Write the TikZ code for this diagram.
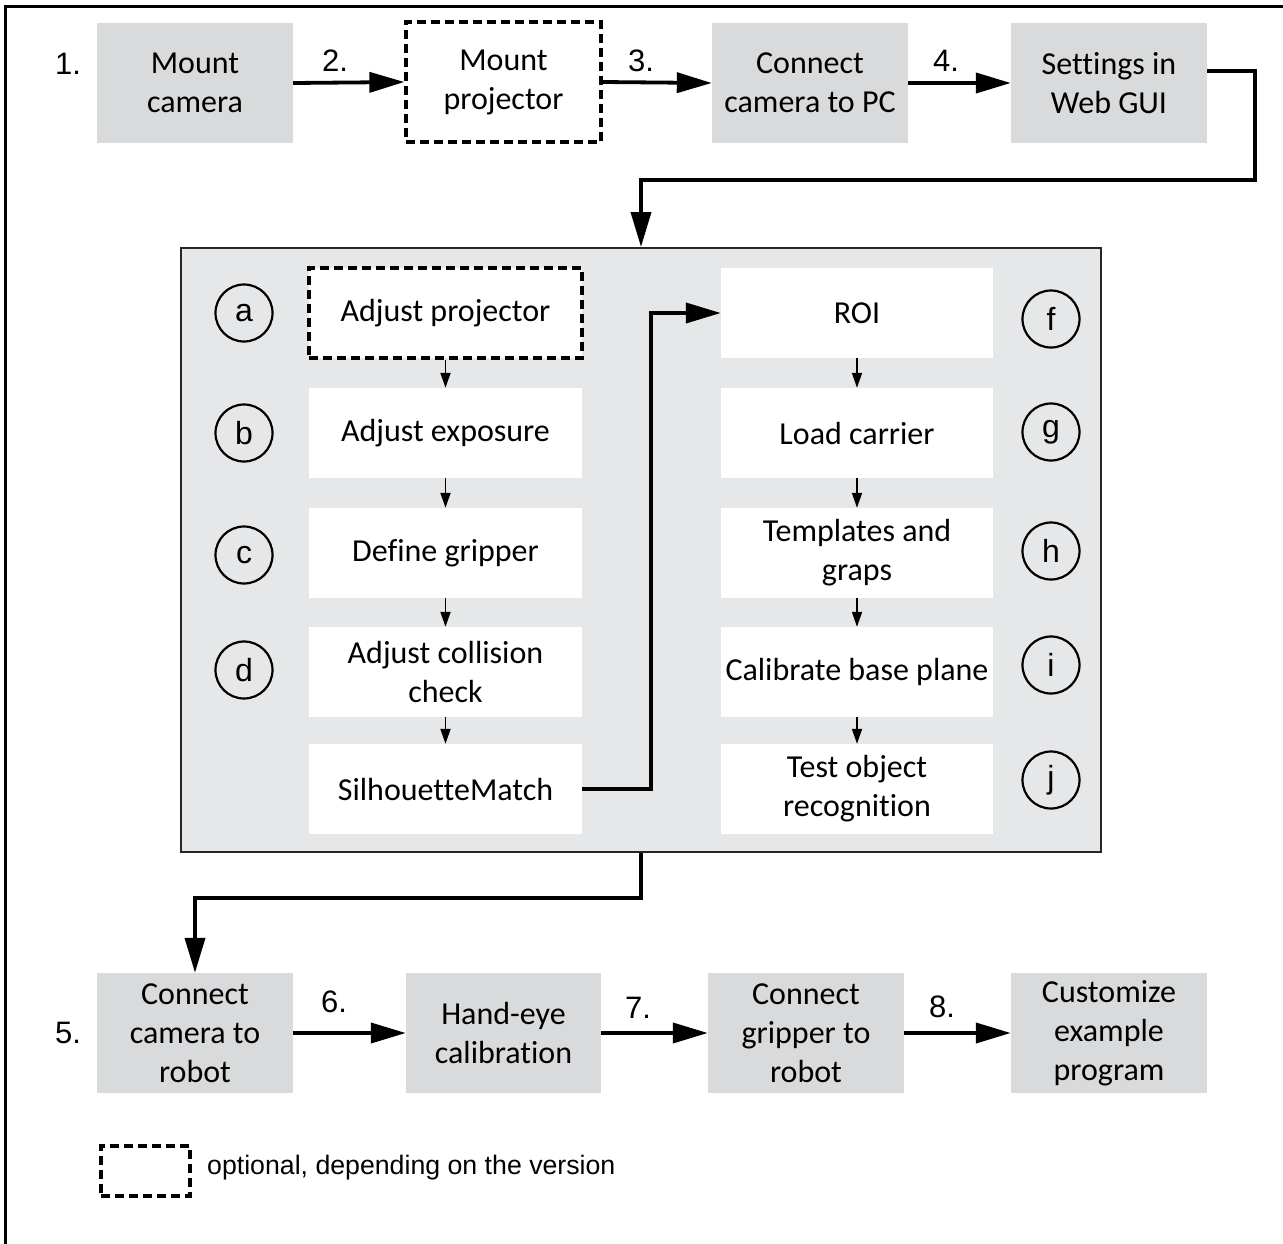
\documentclass[tikz,border=0pt]{standalone}
\usepackage{fontspec}
\setmainfont{Carlito}[Ligatures={NoCommon}]
\newfontfamily\arialf{Liberation Sans}
\usetikzlibrary{arrows.meta}
\definecolor{boxgray}{RGB}{217,218,220}
\definecolor{panelgray}{RGB}{230,231,232}
\begin{document}
\begin{tikzpicture}[x=1pt,y=-1pt,
  stepbox/.style={fill=boxgray, minimum width=196pt, minimum height=120pt, inner sep=0pt, align=center, font=\fontsize{32}{39}\selectfont},
  optbox/.style={draw, line width=3.2pt, dash pattern=on 9pt off 5pt},
  inbox/.style={fill=white, minimum width=273pt, minimum height=90pt, inner sep=0pt, align=center, font=\fontsize{32}{39}\selectfont},
  letter/.style={circle, draw, line width=2.2pt, minimum size=57pt, inner sep=0pt, font=\arialf\fontsize{32}{32}\selectfont},
  num/.style={font=\arialf\fontsize{31}{31}\selectfont, inner sep=0pt},
  bigarrow/.style={line width=3.8pt, -{Triangle[length=35pt,width=20pt]}},
  smallarrow/.style={line width=1.8pt, -{Triangle[length=15pt,width=10pt]}}
]
\useasboundingbox (0,0) rectangle (1283,1243);
\fill[white] (0,0) rectangle (1283,1243);
\draw[line width=3pt] (5,1250) -- (5,6) -- (1290,6);

% top row
\node[stepbox] (mcam) at (195,83) {Mount\\camera};
\node[stepbox, fill=white, optbox, minimum width=195pt] (mproj) at (503.5,82) {Mount\\projector};
\node[stepbox] (cpc) at (810,83) {Connect\\camera to PC};
\node[stepbox] (web) at (1109,83) {Settings in\\Web GUI};
\node[num] (n1) at (68,64) {1.};
\node[num] (n2) at (335,61) {2.};
\node[num] (n3) at (641,61) {3.};
\node[num] (n4) at (946,61) {4.};
\draw[bigarrow] (mcam.east) -- (mproj.west);
\draw[bigarrow] (mproj.east) -- (cpc.west);
\draw[bigarrow] (cpc.east) -- (web.west);

% panel
\node[draw=black!85, fill=panelgray, line width=2pt, minimum width=920pt, minimum height=604pt, inner sep=0pt] (panel) at (641,550) {};
\draw[bigarrow] (web.east |- 0,71) -- (1255,71) |- (641,180) -- (panel.north);

% left column
\node[inbox, optbox] (a) at (445.5,313) {Adjust projector};
\node[inbox] (b) at (445.5,433) {Adjust exposure};
\node[inbox] (c) at (445.5,553) {Define gripper};
\node[inbox] (d) at (445.5,672) {Adjust collision\\check};
\node[inbox] (e) at (445.5,789) {SilhouetteMatch};
\draw[smallarrow] (a.south) -- (b.north);
\draw[smallarrow] (b.south) -- (c.north);
\draw[smallarrow] (c.south) -- (d.north);
\draw[smallarrow] (d.south) -- (e.north);

% right column
\node[inbox, minimum width=272pt] (f) at (857,313) {ROI};
\node[inbox, minimum width=272pt] (g) at (857,433) {Load carrier};
\node[inbox, minimum width=272pt] (h) at (857,553) {Templates and\\graps};
\node[inbox, minimum width=272pt] (i) at (857,672) {Calibrate base plane};
\node[inbox, minimum width=272pt] (j) at (857,789) {Test object\\recognition};
\draw[smallarrow] (f.south) -- (g.north);
\draw[smallarrow] (g.south) -- (h.north);
\draw[smallarrow] (h.south) -- (i.north);
\draw[smallarrow] (i.south) -- (j.north);

% letters
\node[letter] (la) at (244,313) {a};
\node[letter] (lb) at (244,433) {b};
\node[letter] (lc) at (244,555) {c};
\node[letter] (ld) at (244,670) {d};
\node[letter] (lf) at (1051,319) {f};
\node[letter] (lg) at (1051,432) {g};
\node[letter] (lh) at (1051,551) {h};
\node[letter] (li) at (1051,665) {i};
\node[letter] (lj) at (1051,780) {j};

\draw[bigarrow] (e.east) -- (651,789) |- (f.west);

% bottom row
\node[stepbox] (crob) at (195,1033) {Connect\\camera to\\robot};
\node[stepbox, minimum width=195pt] (hand) at (503.5,1033) {Hand-eye\\calibration};
\node[stepbox] (grip) at (806,1033) {Connect\\gripper to\\robot};
\node[stepbox] (cust) at (1109,1033) {Customize\\example\\program};
\draw[bigarrow] (panel.south) -- (641,898) -| (crob.north);
\node[num] (n5) at (68,1033) {5.};
\node[num] (n6) at (334,1002) {6.};
\node[num] (n7) at (638,1008) {7.};
\node[num] (n8) at (942,1007) {8.};
\draw[bigarrow] (crob.east) -- (hand.west);
\draw[bigarrow] (hand.east) -- (grip.west);
\draw[bigarrow] (grip.east) -- (cust.west);

% legend
\node[optbox, minimum width=89pt, minimum height=50pt, inner sep=0pt] (leg) at (145.5,1171) {};
\node[anchor=west, inner sep=0pt, font=\arialf\fontsize{26.7}{26.7}\selectfont] (legt) at (207,1168) {optional, depending on the version};
\end{tikzpicture}
\end{document}
